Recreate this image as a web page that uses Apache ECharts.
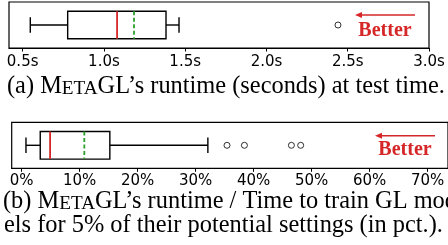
<!DOCTYPE html>
<html lang="en">
<head>
    <meta charset="UTF-8">
    <title>MetaGL runtime</title>
    <style>
        html, body { margin: 0; padding: 0; background: #fff; }
        #main { width: 448px; height: 245px; }
    </style>
</head>
<body>
<div id="main"></div>
<script src="https://cdn.jsdelivr.net/npm/echarts@6/dist/echarts.min.js"></script>
<script>
    // (a) runtime at test time, seconds: [min, q1, median, q3, max, mean]
    const runtimeStats = [0.547, 0.777, 1.081, 1.382, 1.462, 1.185];
    const runtimeOutliers = [2.44];
    const runtimeTicks = [0.5, 1.0, 1.5, 2.0, 2.5, 3.0];

    // (b) runtime / time to train GL models, percent
    const ratioStats = [0.74, 3.2, 4.9, 15.2, 32.1, 10.8];
    const ratioOutliers = [35.4, 38.4, 46.5, 48.1];
    const ratioTicks = [0, 10, 20, 30, 40, 50, 60, 70];

    const RED = '#d62728';
    const GREEN = '#2ca02c';

    const myChart = echarts.init(document.getElementById('main'));

    /* 箱线图自己画：箱子、须、中位数(红)、均值(绿虚线) */
    function renderBox(params, api) {
        const y = api.value(0);
        const band = api.size([0, 1])[1];
        const half = band * 0.3;
        const cap = band * 0.17;
        const p = (i) => api.coord([api.value(i), y]);
        const lo = p(1), q1 = p(2), med = p(3), q3 = p(4), hi = p(5), mean = p(6);
        const cy = lo[1];
        const black = { stroke: '#000', lineWidth: 1.4, fill: null };
        return {
            type: 'group',
            children: [
                { type: 'line', shape: { x1: lo[0], y1: cy, x2: q1[0], y2: cy }, style: black },
                { type: 'line', shape: { x1: q3[0], y1: cy, x2: hi[0], y2: cy }, style: black },
                { type: 'line', shape: { x1: lo[0], y1: cy - cap, x2: lo[0], y2: cy + cap }, style: black },
                { type: 'line', shape: { x1: hi[0], y1: cy - cap, x2: hi[0], y2: cy + cap }, style: black },
                { type: 'rect', shape: { x: q1[0], y: cy - half, width: q3[0] - q1[0], height: half * 2 }, style: { stroke: '#000', lineWidth: 1.4, fill: '#fff' } },
                { type: 'line', shape: { x1: mean[0], y1: cy - half, x2: mean[0], y2: cy + half }, style: { stroke: GREEN, lineWidth: 1.8, lineDash: [4, 2.5] } },
                { type: 'line', shape: { x1: med[0], y1: cy - half, x2: med[0], y2: cy + half }, style: { stroke: RED, lineWidth: 1.8 } }
            ]
        };
    }

    function axisStyle(ticks, fmt, min, max, idx, margin) {
        return {
            type: 'value', gridIndex: idx, min: min, max: max,
            splitLine: { show: false },
            axisLine: { show: true, lineStyle: { color: '#000', width: 1.2 } },
            axisTick: { show: true, customValues: ticks, length: 3.5, lineStyle: { color: '#000', width: 1 } },
            axisLabel: {
                customValues: ticks, formatter: fmt, margin: margin,
                color: '#000', fontFamily: 'DejaVu Sans', fontSize: 15
            }
        };
    }

    function arrowWithText(x1, x2, ay, ty) {
        return [
            { type: 'line', shape: { x1: x1 + 5, y1: ay, x2: x2, y2: ay }, style: { stroke: RED, lineWidth: 1.5 } },
            { type: 'polygon', shape: { points: [[x1, ay], [x1 + 7, ay - 3], [x1 + 7, ay + 3]] }, style: { fill: RED } },
            { type: 'text', x: (x1 + x2) / 2, y: ty, style: { text: 'Better', fill: RED, font: 'bold 20px "Liberation Serif"', align: 'center', verticalAlign: 'middle' } }
        ];
    }

    const capRich = {
        n: { fontFamily: 'Liberation Serif', fontSize: 24.4, verticalAlign: 'bottom', lineHeight: 24, fill: '#000' },
        s: { fontFamily: 'Liberation Serif', fontSize: 19.2, verticalAlign: 'bottom', lineHeight: 24, padding: [0, 0, 1, 0], fill: '#000' }
    };

    myChart.setOption({
        animation: false,
        grid: [
            { left: 9, top: 2, width: 420, height: 46, show: true, borderColor: '#000', borderWidth: 1.2 },
            { left: 11.7, top: 122.3, width: 438.5, height: 46, show: true, borderColor: '#000', borderWidth: 1.2 }
        ],
        xAxis: [
            axisStyle(runtimeTicks, v => v.toFixed(1) + 's', 0.416, 3.0, 0, 7),
            axisStyle(ratioTicks, v => v + '%', -1.72, 73.5, 1, 5)
        ],
        yAxis: [
            { type: 'category', gridIndex: 0, data: ['a'], show: false },
            { type: 'category', gridIndex: 1, data: ['b'], show: false }
        ],
        series: [
            { type: 'custom', xAxisIndex: 0, yAxisIndex: 0, renderItem: renderBox,
              encode: { x: [1, 2, 3, 4, 5, 6], y: 0 }, data: [[0].concat(runtimeStats)] },
            { type: 'scatter', xAxisIndex: 0, yAxisIndex: 0, symbol: 'circle', symbolSize: 6,
              itemStyle: { color: '#fff', borderColor: '#000', borderWidth: 1 },
              data: runtimeOutliers.map(v => [v, 0]) },
            { type: 'custom', xAxisIndex: 1, yAxisIndex: 1, renderItem: renderBox,
              encode: { x: [1, 2, 3, 4, 5, 6], y: 0 }, data: [[0].concat(ratioStats)] },
            { type: 'scatter', xAxisIndex: 1, yAxisIndex: 1, symbol: 'circle', symbolSize: 6,
              itemStyle: { color: '#fff', borderColor: '#000', borderWidth: 1 },
              data: ratioOutliers.map(v => [v, 0]) }
        ],
        graphic: [].concat(
            arrowWithText(355, 415, 15, 31),
            arrowWithText(375, 435, 135.7, 150),
            [
                { type: 'text', x: 7, y: 87, style: { text: '{n|(a) M}{s|ETA}{n|GL’s runtime (seconds) at test time.}', rich: capRich, verticalAlign: 'middle' } },
                { type: 'text', x: 3, y: 202, style: { text: '{n|(b) M}{s|ETA}{n|GL’s runtime / Time to train GL mod}', rich: capRich, verticalAlign: 'middle' } },
                { type: 'text', x: 4, y: 226, style: { text: '{n|els for 5% of their potential settings (in pct.).}', rich: capRich, verticalAlign: 'middle' } }
            ]
        )
    });
</script>
</body>
</html>
